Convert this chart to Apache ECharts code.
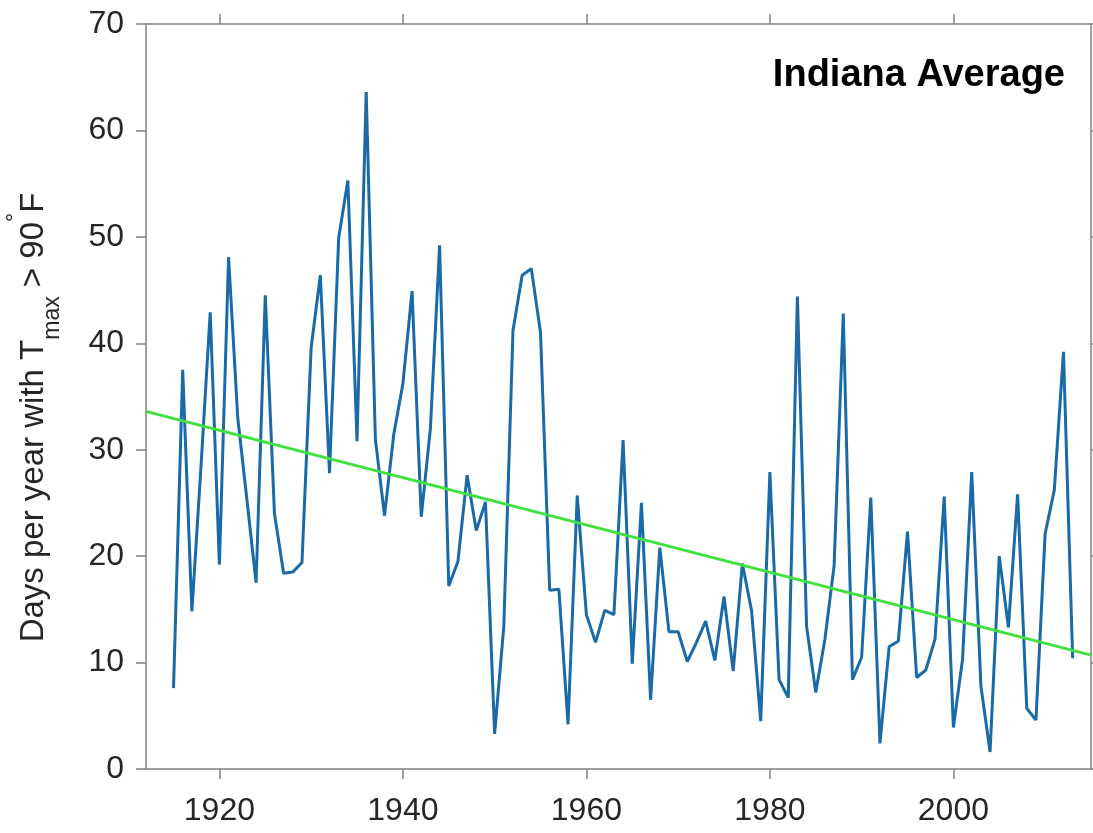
<!DOCTYPE html>
<html>
<head>
<meta charset="utf-8">
<script src="https://cdn.jsdelivr.net/npm/echarts@6/dist/echarts.min.js"></script>
<style>
html,body{margin:0;padding:0;background:#fff;}
#chart{width:1093px;height:833px;}
</style>
</head>
<body>
<div id="chart"></div>
<script>
// Years (x) and days per year with Tmax > 90°F (y)
const years = [
1915,1916,1917,1918,1919,1920,1921,1922,1923,1924,
1925,1926,1927,1928,1929,1930,1931,1932,1933,1934,
1935,1936,1937,1938,1939,1940,1941,1942,1943,1944,
1945,1946,1947,1948,1949,1950,1951,1952,1953,1954,
1955,1956,1957,1958,1959,1960,1961,1962,1963,1964,
1965,1966,1967,1968,1969,1970,1971,1972,1973,1974,
1975,1976,1977,1978,1979,1980,1981,1982,1983,1984,
1985,1986,1987,1988,1989,1990,1991,1992,1993,1994,
1995,1996,1997,1998,1999,2000,2001,2002,2003,2004,
2005,2006,2007,2008,2009,2010,2011,2012,2013
];
const hotDays = [
7.6,37.5,14.8,28.5,42.9,19.2,48.1,33.0,25.3,17.5,
44.5,24.0,18.4,18.5,19.4,39.6,46.4,27.8,49.9,55.3,
30.8,63.6,31.0,23.8,31.4,36.2,44.9,23.7,32.0,49.2,
17.2,19.5,27.6,22.4,25.1,3.3,13.4,41.2,46.4,47.0,
41.0,16.8,16.9,4.2,25.7,14.5,11.9,14.9,14.5,30.9,
9.9,25.0,6.5,20.8,12.9,12.9,10.1,11.9,13.9,10.2,
16.2,9.2,19.3,14.9,4.5,27.9,8.4,6.7,44.4,13.4,
7.2,12.2,19.1,42.8,8.4,10.5,25.5,2.4,11.5,12.0,
22.3,8.6,9.3,12.2,25.6,3.9,10.3,27.9,7.8,1.6,
20.0,13.3,25.8,5.7,4.6,22.1,26.2,39.2,10.4
];
// Linear trend line end points
const trendYears = [1912, 2015];
const trendValues = [33.6, 10.7];
// Tick values
const xTicks = [1920, 1940, 1960, 1980, 2000];
const yMin = 0, yMax = 70, yStep = 10;
const xMin = 1912, xMax = 2015;

const chart = echarts.init(document.getElementById('chart'), null, {renderer: 'canvas'});
const axisColor = '#808080';
const labelColor = '#262626';
const font = '"Liberation Sans", Arial, Helvetica, sans-serif';

const lineData = years.map((y, i) => [y, hotDays[i]]);
const trendData = trendYears.map((y, i) => [y, trendValues[i]]);

function xAxisBase(pos, showLabels) {
  return {
    type: 'value', position: pos, min: xMin, max: xMax,
    axisLine: {show: true, onZero: false, lineStyle: {color: axisColor, width: 1.5}},
    axisTick: {show: true, inside: false, length: 10, customValues: xTicks, lineStyle: {color: axisColor, width: 1.5}},
    axisLabel: {show: showLabels, customValues: xTicks, formatter: v => String(v), fontSize: 32, color: labelColor, fontFamily: font, margin: 26},
    splitLine: {show: false}
  };
}
function yAxisBase(pos, showLabels) {
  return {
    type: 'value', position: pos, min: yMin, max: yMax, interval: yStep,
    axisLine: {show: true, onZero: false, lineStyle: {color: axisColor, width: 1.5}},
    axisTick: {show: true, inside: false, length: 10, lineStyle: {color: axisColor, width: 1.5}},
    axisLabel: {show: showLabels, fontSize: 32, color: labelColor, fontFamily: font, margin: 22},
    splitLine: {show: false}
  };
}

const yMain = yAxisBase('left', true);
yMain.name = '{m|Days per year with T}{sub|max}{m| > 90}{sup|°}{m|F}';
yMain.nameLocation = 'middle';
yMain.nameRotate = 90;
yMain.nameGap = 82;
yMain.nameTextStyle = {
  color: labelColor, fontFamily: font, fontSize: 33,
  padding: [0, 42, 0, 0],
  rich: {
    m: {fontSize: 33, fontFamily: font, color: labelColor},
    sub: {fontSize: 23, fontFamily: font, color: labelColor, padding: [38, 0, 0, 0]},
    sup: {fontSize: 23, fontFamily: font, color: labelColor, padding: [0, 0, 36, 0]}
  }
};

chart.setOption({
  animation: false,
  backgroundColor: '#ffffff',
  title: {
    text: 'Indiana Average', right: 28, top: 57, padding: 0,
    textStyle: {fontSize: 38, fontWeight: 'bold', color: '#000', fontFamily: font}
  },
  grid: {left: 146, right: 2, top: 24, bottom: 64, containLabel: false, outerBoundsMode: 'none'},
  xAxis: [xAxisBase('bottom', true), xAxisBase('top', false)],
  yAxis: [yMain, yAxisBase('right', false)],
  series: [
    {
      type: 'line', data: lineData, xAxisIndex: 0, yAxisIndex: 0,
      showSymbol: false, symbol: 'none',
      lineStyle: {color: '#1a6aa8', width: 3}, z: 2
    },
    {
      type: 'line', data: trendData, xAxisIndex: 0, yAxisIndex: 0,
      showSymbol: false, symbol: 'none',
      lineStyle: {color: '#3fe03f', width: 3}, z: 3
    }
  ]
});
</script>
</body>
</html>
